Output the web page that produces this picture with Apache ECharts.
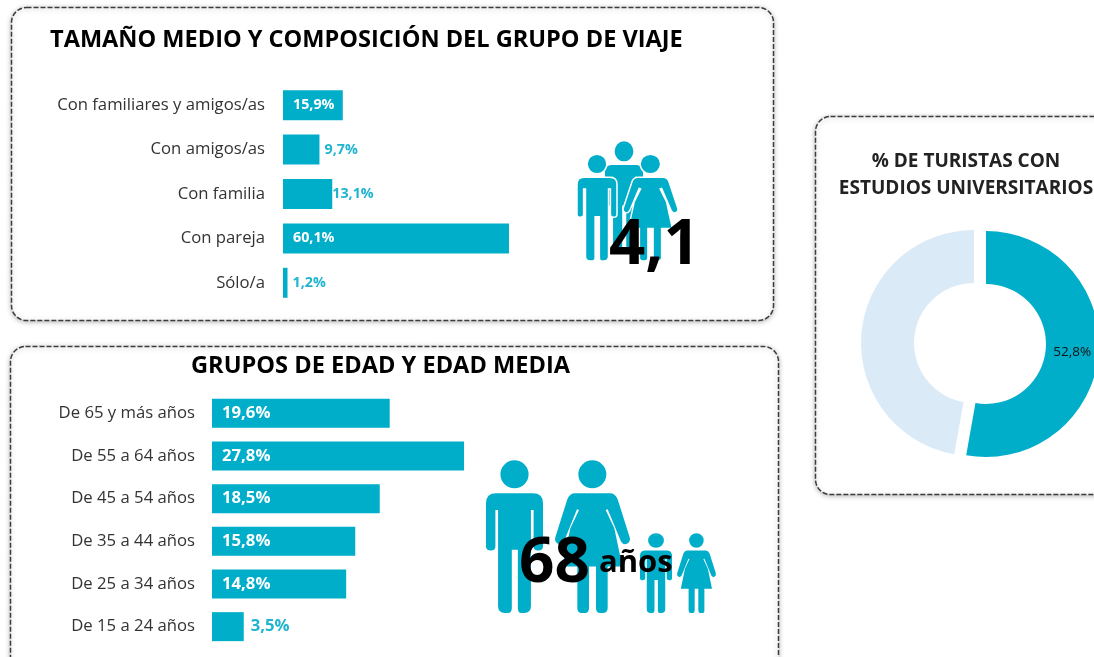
<!DOCTYPE html>
<html><head><meta charset="utf-8">
<style>html,body{margin:0;padding:0;background:#fff}#c{width:1094px;height:657px}</style>
<script src="https://cdn.jsdelivr.net/npm/echarts@6/dist/echarts.min.js"></script>
</head><body><div id="c"></div>
<script>
const groupCategories = ['Con familiares y amigos/as','Con amigos/as','Con familia','Con pareja','Sólo/a'];
const groupValues = [15.9,9.7,13.1,60.1,1.2];
const ageCategories = ['De 65 y más años','De 55 a 64 años','De 45 a 54 años','De 35 a 44 años','De 25 a 34 años','De 15 a 24 años'];
const ageValues = [19.6,27.8,18.5,15.8,14.8,3.5];
const eduNames = ['Con estudios universitarios','Sin estudios universitarios'];
const eduValues = [52.8,47.2];
const groupSize = '4,1';
const meanAge = '68';

const TEAL='#00AEC9', LABEL='#1FB4D0', LIGHT='#DAEBF7', FONT='"Open Sans", "Noto Sans", sans-serif';
const MAN='M43 43a42 42 0 1 0 84 0a42 42 0 1 0 -84 0ZM30 100H140Q170 100 170 130V260Q170 272 155 272Q142 272 142 260V150H134V440Q134 460 114 460H105Q95 460 95 445V270H77V445Q77 460 65 460H56Q36 460 36 440V150H28V260Q28 272 15 272Q0 272 0 260V130Q0 100 30 100Z';
const WOMAN='M70 43a42 42 0 1 0 84 0a42 42 0 1 0 -84 0ZM60 100H165Q180 100 188 118L224 232Q228 245 216 252Q205 256 198 245L158 148L152 150L178 205L202 320H158V445Q158 460 143 460H135Q123 460 123 445V320H102V445Q102 460 90 460H80Q67 460 67 445V320H22L46 205L72 150L66 148L27 245Q20 256 9 252Q-3 245 1 232L37 118Q45 100 60 100Z';
echarts.graphic.registerShape('manIcon',echarts.graphic.extendPath(MAN,{}));
echarts.graphic.registerShape('womanIcon',echarts.graphic.extendPath(WOMAN,{}));
const ICON_W={manIcon:170,womanIcon:225};

function fmt(v){return v.toFixed(1).replace('.',',')+'%';}
function frame(x,y,w,h){return {type:'rect',z:0,shape:{x,y,width:w,height:h,r:15},
  style:{fill:'#fff',stroke:'#3c3c3c',lineWidth:1.5,lineDash:[5,2],shadowBlur:5,shadowColor:'rgba(0,0,0,0.28)',shadowOffsetY:1}};}
function icon(kind,x,y,w,h,edge){
  const sx=w/ICON_W[kind], sy=h/460;
  return {type:kind,z:1,x,y,scaleX:sx,scaleY:sy,
    style:{fill:TEAL,stroke:edge?'#fff':null,lineWidth:edge?1.5/sx:0}};
}
function bigText(text,x,y,size){return {type:'text',z:5,x,y,style:{text,fill:'#000',font:`bold ${size}px ${FONT}`,textAlign:'left',textVerticalAlign:'middle'}};}
function barData(values,insideFrom,size){
  return values.map(v=>({value:v,label:v>=insideFrom
    ?{position:'insideLeft',distance:10,color:'#fff'}
    :{position:'right',distance:(v>10&&v<insideFrom)?0:(size>15?7:5),color:LABEL}}));
}
function barSeries(i,values,insideFrom,size,w){
  return {type:'bar',xAxisIndex:i,yAxisIndex:i,barWidth:w,itemStyle:{color:TEAL},z:2,
    data:barData(values,insideFrom,size),
    label:{show:true,fontFamily:FONT,fontWeight:'bold',fontSize:size,padding:[2,0,0,0],formatter:p=>fmt(p.value)}};
}
function catAxis(i,cats,margin){
  return {type:'category',gridIndex:i,inverse:true,data:cats,axisLine:{show:false},axisTick:{show:false},
    axisLabel:{margin,color:'#333',fontFamily:FONT,fontSize:16.7,padding:[3,0,0,0]}};
}
function titleOf(text,left,top,size){return {text,left,top,textAlign:'left',padding:0,
  textStyle:{fontFamily:FONT,fontWeight:'bold',fontSize:size,color:'#000',lineHeight:27}};}

const chart=echarts.init(document.getElementById('c'),null,{renderer:'canvas'});
chart.setOption({
  animation:false,backgroundColor:'#fff',
  title:[
    titleOf('TAMAÑO MEDIO Y COMPOSICIÓN DEL GRUPO DE VIAJE',50,27,23.55),
    titleOf('GRUPOS DE EDAD Y EDAD MEDIA',191,353,23.6),
    {text:'% DE TURISTAS CON\nESTUDIOS UNIVERSITARIOS',left:966,top:148,padding:0,textAlign:'center',
     textStyle:{fontFamily:FONT,fontWeight:'bold',fontSize:19,color:'#222',lineHeight:27}}
  ],
  grid:[
    {left:283,top:83,width:376,height:222},
    {left:212,top:392,width:272,height:256}
  ],
  xAxis:[
    {type:'value',gridIndex:0,min:0,max:100,show:false},
    {type:'value',gridIndex:1,min:0,max:30,show:false}
  ],
  yAxis:[catAxis(0,groupCategories,18),catAxis(1,ageCategories,17)],
  series:[
    barSeries(0,groupValues,15,14.3,30),
    barSeries(1,ageValues,5,16.7,29),
    {type:'pie',center:[980,343.5],radius:[60,113],startAngle:90,selectedMode:'multiple',selectedOffset:6,z:2,
     emphasis:{disabled:true},labelLine:{show:false},
     data:[
       {name:eduNames[0],value:eduValues[0],selected:true,itemStyle:{color:TEAL},
        label:{show:true,position:'inside',formatter:p=>fmt(p.value),color:'#111',fontFamily:FONT,fontSize:13.5,padding:[0,6,0,0]}},
       {name:eduNames[1],value:eduValues[1],selected:true,itemStyle:{color:LIGHT},label:{show:false}}
     ]}
  ],
  graphic:{elements:[
    frame(11.5,7.5,762,313),
    frame(10.5,346.5,768,330),
    frame(815.5,116.5,300,378),
    icon('manIcon',605,141,38,110,false),
    icon('manIcon',577,154,40,107,true),
    icon('womanIcon',623,154,55,107,true),
    icon('manIcon',486,460,57,153,false),
    icon('womanIcon',555,460,75,153,false),
    icon('manIcon',640,533,32,80,false),
    icon('womanIcon',677,533,39,80,false),
    bigText(groupSize,609,246,63.5),
    bigText(meanAge,519,564,62),
    bigText('años',599,563,31)
  ]}
});
</script></body></html>
